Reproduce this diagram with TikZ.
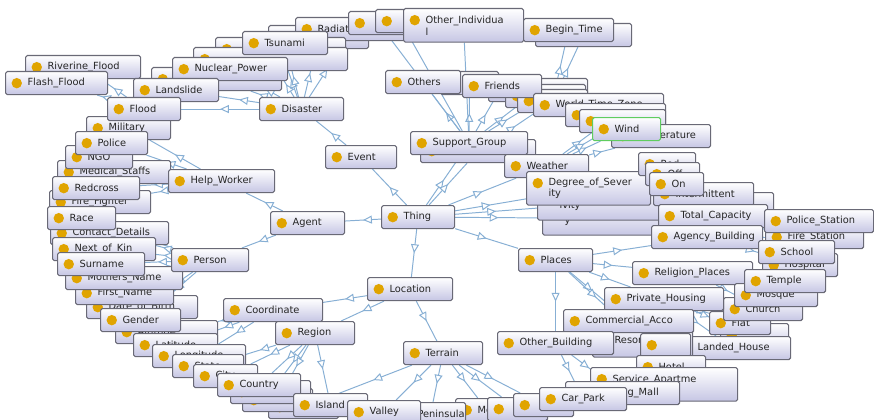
\documentclass[tikz,border=0pt]{standalone}
\usepackage{fontspec}
\newfontfamily\ontofont{DejaVu Sans}
\usetikzlibrary{arrows.meta, decorations.markings, backgrounds}
\definecolor{boxc}{RGB}{105,105,118}
\definecolor{boxb}{RGB}{198,198,228}
\definecolor{dotc}{RGB}{224,164,0}
\definecolor{edgec}{RGB}{135,175,212}
\definecolor{selc}{RGB}{95,205,95}
\tikzset{
  cls/.style={draw=boxc, line width=0.8pt, rounded corners=1.2pt,
    top color=white, bottom color=boxb, anchor=north west,
    text width=#1*0.025cm-0.3cm, inner xsep=0.15cm, inner ysep=0.06cm,
    minimum height=0.575cm, align=left, text=black!85,
    font=\ontofont\fontsize{7pt}{8.4pt}\selectfont,
    execute at begin node={\leftskip=0.4cm},
    path picture={\fill[dotc] ([xshift=0.28cm,yshift=-0.29cm]path picture bounding box.north west) circle (0.13cm);}},
  two/.style={minimum height=0.84cm},
  sel/.style={draw=selc},
  isa/.style={draw=edgec, line width=0.7pt, postaction={decorate},
    decoration={markings, mark=at position 0.5 with {\arrow{Triangle[length=2.2mm, width=2mm, fill=white]}}}},
}
\begin{document}
\begin{tikzpicture}[x=0.025cm, y=-0.025cm]
\useasboundingbox (0,0) rectangle (874,420);
% Disaster kinds
\node[cls=115] (riverine) at (25,55) {Riverine\_Flood};
\node[cls=102] (flashflood) at (5,71) {Flash\_Flood};
\node[cls=100] (dis5) at (268,25) {\mbox{}};
\node[cls=115] (radiation) at (295,17) {Radiation};
\node[cls=130] (dis4) at (215,37) {\mbox{}};
\node[cls=154] (dis3) at (193,47) {\mbox{}};
\node[cls=130] (dis1) at (151,67) {\mbox{}};
\node[cls=115] (nuclear) at (172,57) {Nuclear\_Power};
\node[cls=85] (landslide) at (133,78) {Landslide};
\node[cls=85] (tsunami) at (242,31) {Tsunami};
\node[cls=84] (disaster) at (259,97) {Disaster};
% Support groups and time
\node[cls=60] (topc1) at (348,11) {\mbox{}};
\node[cls=50] (topc2) at (375,9) {\mbox{}};
\node[cls=120, two] (otherind) at (403,8) {Other\_Individua\\l};
\node[cls=96] (endtime) at (535,23) {\mbox{}};
\node[cls=90] (begintime) at (523,18) {Begin\_Time};
\node[cls=99] (fb1) at (488,78) {\mbox{}};
\node[cls=80] (fb2) at (505,84) {\mbox{}};
\node[cls=70] (fb3) at (517,89) {\mbox{}};
\node[cls=58] (othback) at (440,71) {\mbox{}};
\node[cls=75] (others) at (385,70) {Others};
\node[cls=79] (friends) at (462,74) {Friends};
\node[cls=130] (wtz) at (533,93) {World\_Time\_Zone};
\node[cls=100] (w1) at (565,103) {\mbox{}};
\node[cls=86] (w2) at (579,109) {\mbox{}};
\node[cls=99] (temp) at (611,124) {Temperature};
\node[cls=68, sel] (wind) at (592,117) {Wind};
% Left column
\node[cls=84] (military) at (86,116) {Military};
\node[cls=73] (flood) at (107,97) {Flood};
\node[cls=113] (medical) at (57,160) {Medical\_Staffs};
\node[cls=67] (ngo) at (65,145) {NGO};
\node[cls=72] (police) at (75,131) {Police};
\node[cls=101] (firefighter) at (49,190) {Fire\_Fighter};
\node[cls=87] (redcross) at (52,176) {Redcross};
\node[cls=118] (contact) at (50,221) {Contact\_Details};
\node[cls=68] (race) at (47,206) {Race};
\node[cls=103] (nextofkin) at (52,237) {Next\_of\_Kin};
\node[cls=111] (dob) at (86,295) {Date\_of\_Birth};
\node[cls=98] (firstname) at (75,281) {First\_Name};
\node[cls=117] (mothers) at (65,266) {Mothers\_Name};
\node[cls=87] (surname) at (57,252) {Surname};
\node[cls=102] (altitude) at (115,320) {Altitude};
\node[cls=80] (gender) at (100,308) {Gender};
\node[cls=84] (latitude) at (133,333) {Latitude};
\node[cls=93] (longitude) at (152,344) {Longitude};
\node[cls=71] (state) at (172,354) {State};
\node[cls=64] (city) at (193,364) {City};
% Bottom row
\node[cls=70] (cback3) at (268,395) {\mbox{}};
\node[cls=70] (cback2) at (242,388) {\mbox{}};
\node[cls=80] (cback1) at (230,380) {\mbox{}};
\node[cls=83] (country) at (217,373) {Country};
\node[cls=63] (mount) at (455,398) {Mountain};
\node[cls=60] (tb1) at (487,397) {\mbox{}};
\node[cls=60] (tb2) at (513,393) {\mbox{}};
\node[cls=70] (peninsula) at (395,402) {Peninsula};
\node[cls=74] (island) at (293,393) {Island};
\node[cls=73] (valley) at (347,400) {Valley};
% Middle
\node[cls=106] (helpworker) at (168,169) {Help\_Worker};
\node[cls=77] (person) at (171,248) {Person};
\node[cls=99] (coordinate) at (223,298) {Coordinate};
\node[cls=79] (region) at (275,321) {Region};
\node[cls=85] (location) at (367,277) {Location};
\node[cls=79] (terrain) at (403,341) {Terrain};
\node[cls=74] (agent) at (270,211) {Agent};
\node[cls=71] (event) at (325,145) {Event};
\node[cls=73] (thing) at (381,205) {Thing};
\node[cls=115] (sgback) at (420,139) {\mbox{}};
\node[cls=117] (sgroup) at (410,131) {Support\_Group};
\node[cls=84] (weather) at (504,154) {Weather};
\node[cls=125, two] (deg3) at (542,201) {\mbox{}\\y};
\node[cls=125, two] (deg2) at (537,186) {\mbox{}\\ivity};
\node[cls=124, two] (degree) at (526,171) {Degree\_of\_Sever\\ity};
% Right side
\node[cls=57] (stRed) at (638,152) {Red};
\node[cls=54] (stOff) at (645,162) {Off};
\node[cls=113] (intback) at (660,192) {\mbox{}};
\node[cls=100] (intermittent) at (653,182) {Intermittent};
\node[cls=54] (stOn) at (649,172) {On};
\node[cls=109] (totalcap) at (658,204) {Total\_Capacity};
\node[cls=111] (agency) at (651,225) {Agency\_Building};
\node[cls=98] (firestation) at (765,225) {Fire\_Station};
\node[cls=109] (policestation) at (764,209) {Police\_Station};
\node[cls=75] (hospital) at (762,253) {Hospital};
\node[cls=76] (school) at (758,240) {School};
\node[cls=120] (religion) at (632,261) {Religion\_Places};
\node[cls=68] (flatback) at (720,323) {\mbox{}};
\node[cls=61] (flat) at (709,311) {Flat};
\node[cls=79] (church) at (723,297) {Church};
\node[cls=83] (mosque) at (734,283) {Mosque};
\node[cls=81] (temple) at (744,269) {Temple};
\node[cls=115] (landed) at (675,336) {Landed\_House};
\node[cls=119] (private) at (604,287) {Private\_Housing};
\node[cls=100, two] (resort) at (592,323) {Resort};
\node[cls=50] (comback) at (640,333) {\mbox{}};
\node[cls=130] (commercial) at (563,309) {Commercial\_Acco};
\node[cls=116] (otherbuilding) at (497,331) {Other\_Building};
\node[cls=69] (hotel) at (636,355) {Hotel};
\node[cls=147, two] (serviceapt) at (590,367) {Service\_Apartme\\\mbox{}};
\node[cls=114] (mall) at (565,381) {Shopping\_Mall};
\node[cls=87] (carpark) at (539,387) {Car\_Park};
\node[cls=74] (places) at (518,248) {Places};
% Subclass links
\begin{scope}[on background layer]
\draw[isa] (thing) -- (event);
\draw[isa] (thing) -- (agent);
\draw[isa] (thing) -- (location);
\draw[isa] (thing) -- (sgroup);
\draw[isa] (thing) -- (sgback);
\draw[isa] (thing) -- (weather);
\draw[isa] (thing) -- (degree);
\draw[isa] (thing) -- (deg2);
\draw[isa] (thing) -- (deg3);
\draw[isa] (thing) -- (places);
\draw[isa] (event) -- (disaster);
\draw[isa] (disaster) -- (flood);
\draw[isa] (disaster) -- (landslide);
\draw[isa] (disaster) -- (dis1);
\draw[isa] (disaster) -- (nuclear);
\draw[isa] (disaster) -- (dis3);
\draw[isa] (disaster) -- (dis4);
\draw[isa] (disaster) -- (tsunami);
\draw[isa] (disaster) -- (dis5);
\draw[isa] (disaster) -- (radiation);
\draw[isa] (flood) -- (flashflood);
\draw[isa] (flood) -- (riverine);
\draw[isa] (agent) -- (helpworker);
\draw[isa] (agent) -- (person);
\draw[isa] (helpworker) -- (military);
\draw[isa] (helpworker) -- (police);
\draw[isa] (helpworker) -- (ngo);
\draw[isa] (helpworker) -- (medical);
\draw[isa] (helpworker) -- (redcross);
\draw[isa] (helpworker) -- (firefighter);
\draw[isa] (person) -- (race);
\draw[isa] (person) -- (contact);
\draw[isa] (person) -- (nextofkin);
\draw[isa] (person) -- (surname);
\draw[isa] (person) -- (mothers);
\draw[isa] (person) -- (firstname);
\draw[isa] (person) -- (dob);
\draw[isa] (person) -- (gender);
\draw[isa] (location) -- (coordinate);
\draw[isa] (location) -- (region);
\draw[isa] (location) -- (terrain);
\draw[isa] (coordinate) -- (altitude);
\draw[isa] (coordinate) -- (latitude);
\draw[isa] (coordinate) -- (longitude);
\draw[isa] (region) -- (state);
\draw[isa] (region) -- (city);
\draw[isa] (region) -- (country);
\draw[isa] (region) -- (cback1);
\draw[isa] (region) -- (cback2);
\draw[isa] (region) -- (island);
\draw[isa] (terrain) -- (cback3);
\draw[isa] (terrain) -- (valley);
\draw[isa] (terrain) -- (peninsula);
\draw[isa] (terrain) -- (mount);
\draw[isa] (terrain) -- (tb1);
\draw[isa] (terrain) -- (tb2);
\draw[isa] (sgroup) -- (others);
\draw[isa] (sgroup) -- (othback);
\draw[isa] (sgroup) -- (otherind);
\draw[isa] (sgroup) -- (topc1);
\draw[isa] (sgroup) -- (topc2);
\draw[isa] (sgroup) -- (friends);
\draw[isa] (sgroup) -- (fb1);
\draw[isa] (sgroup) -- (fb2);
\draw[isa] (sgback) -- (fb3);
\draw[isa] (fb3) -- (begintime);
\draw[isa] (fb3) -- (endtime);
\draw[isa] (fb3) -- (wtz);
\draw[isa] (weather) -- (wind);
\draw[isa] (weather) -- (temp);
\draw[isa] (weather) -- (w1);
\draw[isa] (weather) -- (w2);
\draw[isa] (deg2) -- (stRed);
\draw[isa] (deg2) -- (stOff);
\draw[isa] (deg2) -- (stOn);
\draw[isa] (deg2) -- (intermittent);
\draw[isa] (deg3) -- (intback);
\draw[isa] (deg3) -- (totalcap);
\draw[isa] (places) -- (religion);
\draw[isa] (places) -- (private);
\draw[isa] (places) -- (commercial);
\draw[isa] (places) -- (resort);
\draw[isa] (places) -- (otherbuilding);
\draw[isa] (places) -- (agency);
\draw[isa] (agency) -- (policestation);
\draw[isa] (agency) -- (firestation);
\draw[isa] (agency) -- (school);
\draw[isa] (agency) -- (hospital);
\draw[isa] (religion) -- (temple);
\draw[isa] (religion) -- (mosque);
\draw[isa] (religion) -- (church);
\draw[isa] (private) -- (flat);
\draw[isa] (private) -- (flatback);
\draw[isa] (private) -- (landed);
\draw[isa] (commercial) -- (hotel);
\draw[isa] (commercial) -- (serviceapt);
\draw[isa] (commercial) -- (comback);
\draw[isa] (otherbuilding) -- (carpark);
\draw[isa] (otherbuilding) -- (mall);
\end{scope}
\end{tikzpicture}
\end{document}
